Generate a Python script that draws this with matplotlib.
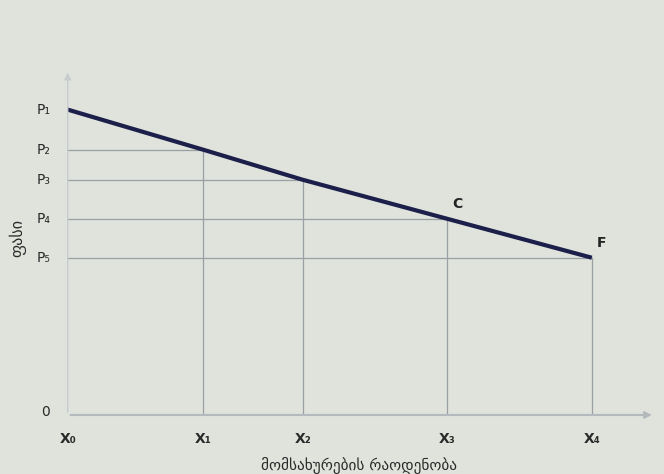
import matplotlib.pyplot as plt

# quantities and prices (axis units)
x_labels = ['X₀', 'X₁', 'X₂', 'X₃', 'X₄']
x_vals = [0, 25.8, 44.9, 72.3, 100]
p_labels = ['P₁', 'P₂', 'P₃', 'P₄', 'P₅']
p_vals = [100, 86.9, 77.0, 64.3, 51.5]
point_names = {3: 'C', 4: 'F'}

bg = '#dfe3dc'
grid_c = '#9a9fa3'

fig = plt.figure(figsize=(6.64, 4.74), dpi=100, facecolor=bg)
ax = fig.add_axes([0.102, 0.1245, 0.884, 0.728])
ax.set_facecolor(bg)
ax.set_xlim(0, 112)
ax.set_ylim(0, 113)
for s in ax.spines.values():
    s.set_visible(False)
ax.set_xticks([])
ax.set_yticks([])

# axes with arrows
ax.annotate('', xy=(112, 0), xytext=(0, 0),
            arrowprops=dict(arrowstyle='-|>', color='#b4b9bd', lw=1.5), annotation_clip=False)
ax.annotate('', xy=(0, 113), xytext=(0, 0),
            arrowprops=dict(arrowstyle='-|>', color='#c8ccce', lw=1.0), annotation_clip=False)

# guide lines to each point on the curve
for i in range(1, 5):
    ax.plot([0, x_vals[i]], [p_vals[i], p_vals[i]], color=grid_c, lw=0.9)
    ax.plot([x_vals[i], x_vals[i]], [0, p_vals[i]], color=grid_c, lw=0.9)

# demand line
ax.plot(x_vals, p_vals, color='#1c1f4a', lw=3.0, solid_capstyle='butt')

for i, name in point_names.items():
    ax.text(x_vals[i] + 1.0, p_vals[i] + 2.5, name, fontsize=10, fontweight='bold',
            color='#222222', ha='left', va='bottom')

# tick labels
for lab, xv in zip(x_labels, x_vals):
    ax.text(xv, -5.5, lab, ha='center', va='top', fontsize=10, fontweight='bold', color='#2a2a2a')
for lab, pv in zip(p_labels, p_vals):
    ax.text(-3.2, pv, lab, ha='right', va='center', fontsize=10, color='#2a2a2a')
ax.text(-3.5, 1.0, '0', ha='right', va='center', fontsize=10, color='#2a2a2a')

ax.text(-9.5, 58, 'ფასი', rotation=90, ha='center', va='center', fontsize=11.5, color='#2a2a2a')
ax.text(55.5, -16.4, 'მომსახურების რაოდენობა', ha='center', va='center', fontsize=11, color='#2a2a2a')

fig.savefig('out.png', dpi=100, facecolor=bg)
